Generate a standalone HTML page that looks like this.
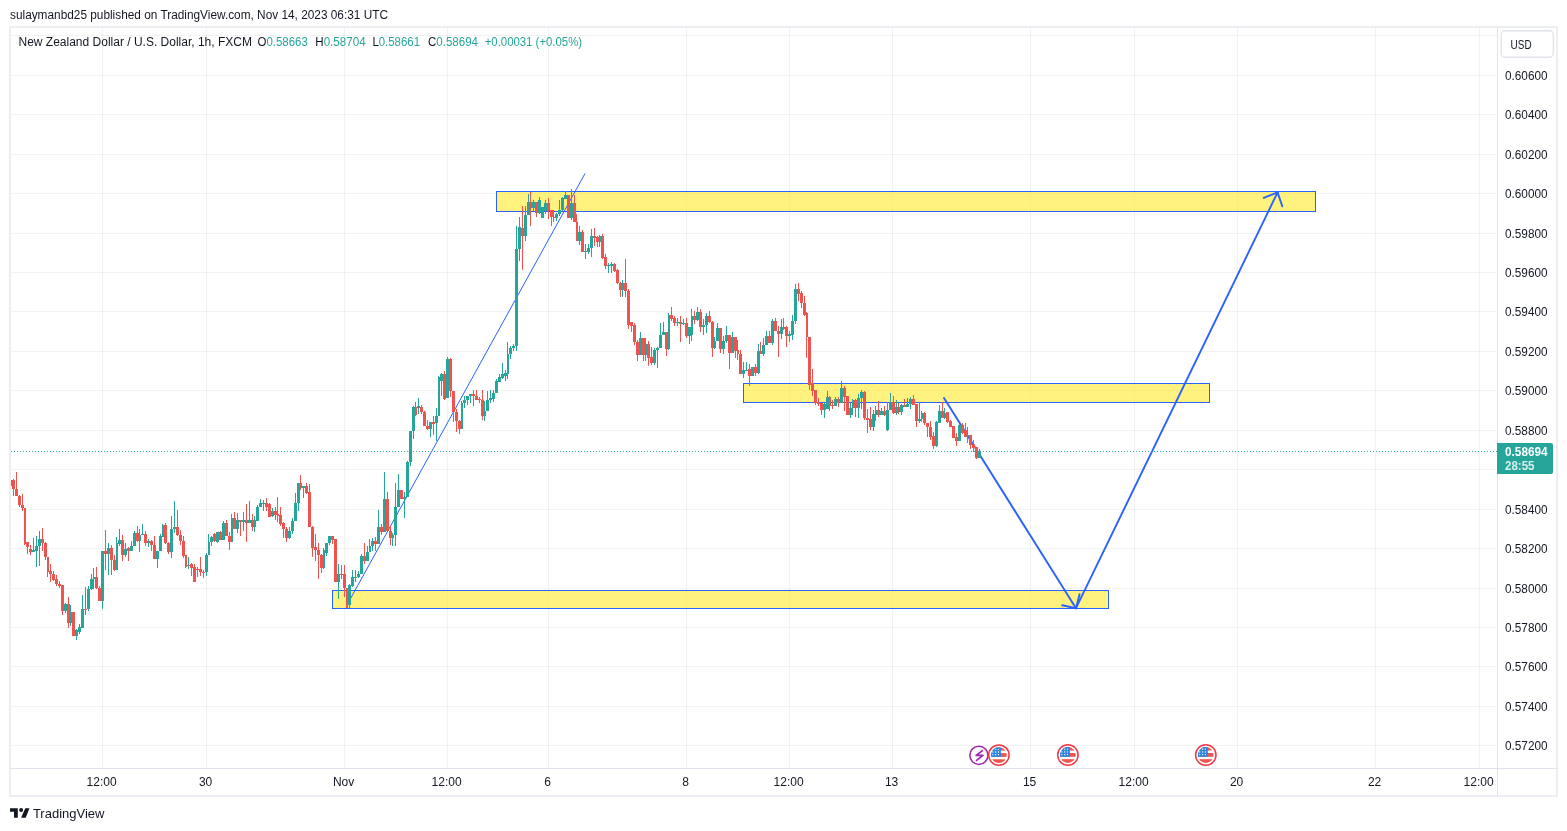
<!DOCTYPE html>
<html><head><meta charset="utf-8"><style>
html,body{margin:0;padding:0;background:#fff;width:1567px;height:831px;overflow:hidden}
svg{display:block;will-change:transform}
text{font-family:"Liberation Sans", sans-serif}
</style></head><body>
<svg width="1567" height="831" viewBox="0 0 1567 831">
<rect x="0" y="0" width="1567" height="831" fill="#ffffff"/>
<text x="10" y="19" font-size="12" fill="#131722" textLength="378" lengthAdjust="spacingAndGlyphs">sulaymanbd25 published on TradingView.com, Nov 14, 2023 06:31 UTC</text>
<rect x="10" y="27" width="1547" height="769" fill="#ffffff" stroke="#eceef3" stroke-width="2"/>
<svg x="0" y="0" width="1567" height="831"><clipPath id="cp"><rect x="11" y="28" width="1486" height="740"/></clipPath>
<g clip-path="url(#cp)">
<rect x="11" y="35" width="1486" height="1" fill="rgba(60,70,70,0.07)"/>
<rect x="11" y="75" width="1486" height="1" fill="rgba(60,70,70,0.07)"/>
<rect x="11" y="114" width="1486" height="1" fill="rgba(60,70,70,0.07)"/>
<rect x="11" y="154" width="1486" height="1" fill="rgba(60,70,70,0.07)"/>
<rect x="11" y="193" width="1486" height="1" fill="rgba(60,70,70,0.07)"/>
<rect x="11" y="233" width="1486" height="1" fill="rgba(60,70,70,0.07)"/>
<rect x="11" y="272" width="1486" height="1" fill="rgba(60,70,70,0.07)"/>
<rect x="11" y="311" width="1486" height="1" fill="rgba(60,70,70,0.07)"/>
<rect x="11" y="351" width="1486" height="1" fill="rgba(60,70,70,0.07)"/>
<rect x="11" y="390" width="1486" height="1" fill="rgba(60,70,70,0.07)"/>
<rect x="11" y="430" width="1486" height="1" fill="rgba(60,70,70,0.07)"/>
<rect x="11" y="469" width="1486" height="1" fill="rgba(60,70,70,0.07)"/>
<rect x="11" y="509" width="1486" height="1" fill="rgba(60,70,70,0.07)"/>
<rect x="11" y="548" width="1486" height="1" fill="rgba(60,70,70,0.07)"/>
<rect x="11" y="588" width="1486" height="1" fill="rgba(60,70,70,0.07)"/>
<rect x="11" y="627" width="1486" height="1" fill="rgba(60,70,70,0.07)"/>
<rect x="11" y="666" width="1486" height="1" fill="rgba(60,70,70,0.07)"/>
<rect x="11" y="706" width="1486" height="1" fill="rgba(60,70,70,0.07)"/>
<rect x="11" y="745" width="1486" height="1" fill="rgba(60,70,70,0.07)"/>
<rect x="102" y="28" width="1" height="740" fill="rgba(60,70,70,0.07)"/>
<rect x="206" y="28" width="1" height="740" fill="rgba(60,70,70,0.07)"/>
<rect x="344" y="28" width="1" height="740" fill="rgba(60,70,70,0.07)"/>
<rect x="447" y="28" width="1" height="740" fill="rgba(60,70,70,0.07)"/>
<rect x="548" y="28" width="1" height="740" fill="rgba(60,70,70,0.07)"/>
<rect x="686" y="28" width="1" height="740" fill="rgba(60,70,70,0.07)"/>
<rect x="789" y="28" width="1" height="740" fill="rgba(60,70,70,0.07)"/>
<rect x="892" y="28" width="1" height="740" fill="rgba(60,70,70,0.07)"/>
<rect x="1030" y="28" width="1" height="740" fill="rgba(60,70,70,0.07)"/>
<rect x="1134" y="28" width="1" height="740" fill="rgba(60,70,70,0.07)"/>
<rect x="1237" y="28" width="1" height="740" fill="rgba(60,70,70,0.07)"/>
<rect x="1375" y="28" width="1" height="740" fill="rgba(60,70,70,0.07)"/>
<rect x="1479" y="28" width="1" height="740" fill="rgba(60,70,70,0.07)"/>
<rect x="496.5" y="191.5" width="819" height="20" fill="rgba(255,235,59,0.66)" stroke="#2962ff" stroke-width="1"/>
<rect x="743.5" y="383.5" width="466" height="19" fill="rgba(255,235,59,0.66)" stroke="#2962ff" stroke-width="1"/>
<rect x="332.5" y="590.5" width="776" height="18" fill="rgba(255,235,59,0.66)" stroke="#2962ff" stroke-width="1"/>
<line x1="347" y1="605" x2="585" y2="173.5" stroke="#2962ff" stroke-width="1"/>
<g stroke="#2962ff" stroke-width="1.9" fill="none" stroke-linecap="round" stroke-linejoin="round">
<line x1="944" y1="398" x2="1076" y2="608.2"/>
<polyline points="1062.2,605.2 1076,608.2 1079.6,594.2"/>
<line x1="1076" y1="608.2" x2="1277.6" y2="192.4"/>
<polyline points="1263.8,197.8 1277.6,192.4 1282.3,206.3"/>
</g>
<line x1="11" y1="451.5" x2="1497" y2="451.5" stroke="#26a69a" stroke-width="1" stroke-dasharray="1 2"/>
<rect x="10" y="480" width="1" height="6" fill="#26a69a"/>
<rect x="9" y="480" width="3" height="6" fill="#26a69a"/>
<rect x="13" y="479" width="1" height="17" fill="#ef5350"/>
<rect x="12" y="480" width="3" height="9" fill="#ef5350"/>
<rect x="16" y="472" width="1" height="24" fill="#ef5350"/>
<rect x="15" y="489" width="3" height="7" fill="#ef5350"/>
<rect x="19" y="495" width="1" height="12" fill="#ef5350"/>
<rect x="18" y="496" width="3" height="9" fill="#ef5350"/>
<rect x="22" y="494" width="1" height="17" fill="#ef5350"/>
<rect x="21" y="505" width="3" height="3" fill="#ef5350"/>
<rect x="24" y="508" width="1" height="37" fill="#ef5350"/>
<rect x="24" y="508" width="2" height="36" fill="#ef5350"/>
<rect x="27" y="542" width="1" height="12" fill="#ef5350"/>
<rect x="26" y="542" width="3" height="5" fill="#ef5350"/>
<rect x="30" y="545" width="1" height="10" fill="#ef5350"/>
<rect x="29" y="549" width="3" height="3" fill="#ef5350"/>
<rect x="33" y="538" width="1" height="14" fill="#26a69a"/>
<rect x="32" y="550" width="3" height="2" fill="#26a69a"/>
<rect x="36" y="536" width="1" height="31" fill="#26a69a"/>
<rect x="35" y="546" width="3" height="5" fill="#26a69a"/>
<rect x="39" y="531" width="1" height="35" fill="#26a69a"/>
<rect x="38" y="539" width="3" height="7" fill="#26a69a"/>
<rect x="42" y="528" width="1" height="23" fill="#ef5350"/>
<rect x="41" y="539" width="3" height="4" fill="#ef5350"/>
<rect x="45" y="542" width="1" height="18" fill="#ef5350"/>
<rect x="44" y="543" width="3" height="14" fill="#ef5350"/>
<rect x="47" y="557" width="1" height="20" fill="#ef5350"/>
<rect x="47" y="557" width="2" height="15" fill="#ef5350"/>
<rect x="50" y="564" width="1" height="18" fill="#ef5350"/>
<rect x="49" y="571" width="3" height="3" fill="#ef5350"/>
<rect x="53" y="571" width="1" height="10" fill="#ef5350"/>
<rect x="52" y="574" width="3" height="6" fill="#ef5350"/>
<rect x="56" y="575" width="1" height="11" fill="#ef5350"/>
<rect x="55" y="579" width="3" height="5" fill="#ef5350"/>
<rect x="59" y="581" width="1" height="7" fill="#ef5350"/>
<rect x="58" y="584" width="3" height="2" fill="#ef5350"/>
<rect x="62" y="585" width="1" height="30" fill="#ef5350"/>
<rect x="61" y="585" width="3" height="26" fill="#ef5350"/>
<rect x="65" y="603" width="1" height="10" fill="#26a69a"/>
<rect x="64" y="604" width="3" height="7" fill="#26a69a"/>
<rect x="68" y="597" width="1" height="31" fill="#ef5350"/>
<rect x="67" y="604" width="3" height="19" fill="#ef5350"/>
<rect x="70" y="605" width="1" height="21" fill="#26a69a"/>
<rect x="70" y="612" width="2" height="11" fill="#26a69a"/>
<rect x="73" y="612" width="1" height="24" fill="#ef5350"/>
<rect x="72" y="612" width="3" height="24" fill="#ef5350"/>
<rect x="76" y="629" width="1" height="11" fill="#26a69a"/>
<rect x="75" y="630" width="3" height="6" fill="#26a69a"/>
<rect x="79" y="624" width="1" height="10" fill="#26a69a"/>
<rect x="78" y="627" width="3" height="5" fill="#26a69a"/>
<rect x="82" y="595" width="1" height="33" fill="#26a69a"/>
<rect x="81" y="609" width="3" height="19" fill="#26a69a"/>
<rect x="85" y="587" width="1" height="28" fill="#ef5350"/>
<rect x="84" y="609" width="3" height="1" fill="#ef5350"/>
<rect x="88" y="586" width="1" height="25" fill="#26a69a"/>
<rect x="87" y="589" width="3" height="20" fill="#26a69a"/>
<rect x="91" y="574" width="1" height="16" fill="#26a69a"/>
<rect x="90" y="579" width="3" height="10" fill="#26a69a"/>
<rect x="93" y="568" width="1" height="21" fill="#26a69a"/>
<rect x="93" y="577" width="2" height="2" fill="#26a69a"/>
<rect x="96" y="567" width="1" height="22" fill="#ef5350"/>
<rect x="95" y="577" width="3" height="11" fill="#ef5350"/>
<rect x="99" y="586" width="1" height="15" fill="#ef5350"/>
<rect x="98" y="588" width="3" height="13" fill="#ef5350"/>
<rect x="102" y="551" width="1" height="58" fill="#26a69a"/>
<rect x="101" y="551" width="3" height="50" fill="#26a69a"/>
<rect x="105" y="530" width="1" height="40" fill="#ef5350"/>
<rect x="104" y="551" width="3" height="3" fill="#ef5350"/>
<rect x="108" y="543" width="1" height="32" fill="#26a69a"/>
<rect x="107" y="548" width="3" height="6" fill="#26a69a"/>
<rect x="111" y="545" width="1" height="30" fill="#ef5350"/>
<rect x="110" y="548" width="3" height="12" fill="#ef5350"/>
<rect x="114" y="555" width="1" height="16" fill="#ef5350"/>
<rect x="113" y="560" width="3" height="10" fill="#ef5350"/>
<rect x="116" y="537" width="1" height="33" fill="#26a69a"/>
<rect x="116" y="543" width="2" height="27" fill="#26a69a"/>
<rect x="119" y="529" width="1" height="17" fill="#26a69a"/>
<rect x="118" y="540" width="3" height="4" fill="#26a69a"/>
<rect x="122" y="535" width="1" height="26" fill="#ef5350"/>
<rect x="121" y="540" width="3" height="15" fill="#ef5350"/>
<rect x="125" y="543" width="1" height="14" fill="#26a69a"/>
<rect x="124" y="549" width="3" height="6" fill="#26a69a"/>
<rect x="128" y="547" width="1" height="14" fill="#ef5350"/>
<rect x="127" y="548" width="3" height="3" fill="#ef5350"/>
<rect x="131" y="541" width="1" height="10" fill="#26a69a"/>
<rect x="130" y="546" width="3" height="5" fill="#26a69a"/>
<rect x="134" y="531" width="1" height="15" fill="#26a69a"/>
<rect x="133" y="533" width="3" height="13" fill="#26a69a"/>
<rect x="137" y="526" width="1" height="16" fill="#ef5350"/>
<rect x="136" y="533" width="3" height="8" fill="#ef5350"/>
<rect x="139" y="529" width="1" height="23" fill="#26a69a"/>
<rect x="139" y="535" width="2" height="6" fill="#26a69a"/>
<rect x="142" y="524" width="1" height="11" fill="#26a69a"/>
<rect x="141" y="534" width="3" height="1" fill="#26a69a"/>
<rect x="145" y="531" width="1" height="15" fill="#ef5350"/>
<rect x="144" y="534" width="3" height="9" fill="#ef5350"/>
<rect x="148" y="539" width="1" height="8" fill="#26a69a"/>
<rect x="147" y="541" width="3" height="2" fill="#26a69a"/>
<rect x="151" y="540" width="1" height="11" fill="#ef5350"/>
<rect x="150" y="541" width="3" height="4" fill="#ef5350"/>
<rect x="154" y="536" width="1" height="23" fill="#ef5350"/>
<rect x="153" y="545" width="3" height="14" fill="#ef5350"/>
<rect x="157" y="551" width="1" height="17" fill="#26a69a"/>
<rect x="156" y="551" width="3" height="8" fill="#26a69a"/>
<rect x="160" y="534" width="1" height="17" fill="#26a69a"/>
<rect x="159" y="536" width="3" height="15" fill="#26a69a"/>
<rect x="162" y="524" width="1" height="13" fill="#26a69a"/>
<rect x="162" y="525" width="2" height="12" fill="#26a69a"/>
<rect x="165" y="523" width="1" height="21" fill="#ef5350"/>
<rect x="164" y="525" width="3" height="18" fill="#ef5350"/>
<rect x="168" y="542" width="1" height="12" fill="#ef5350"/>
<rect x="167" y="543" width="3" height="9" fill="#ef5350"/>
<rect x="171" y="516" width="1" height="42" fill="#26a69a"/>
<rect x="170" y="529" width="3" height="23" fill="#26a69a"/>
<rect x="174" y="501" width="1" height="32" fill="#26a69a"/>
<rect x="173" y="527" width="3" height="2" fill="#26a69a"/>
<rect x="177" y="510" width="1" height="26" fill="#ef5350"/>
<rect x="176" y="527" width="3" height="8" fill="#ef5350"/>
<rect x="180" y="530" width="1" height="15" fill="#ef5350"/>
<rect x="179" y="535" width="3" height="6" fill="#ef5350"/>
<rect x="183" y="536" width="1" height="22" fill="#ef5350"/>
<rect x="182" y="541" width="3" height="15" fill="#ef5350"/>
<rect x="185" y="555" width="1" height="13" fill="#ef5350"/>
<rect x="185" y="555" width="2" height="12" fill="#ef5350"/>
<rect x="188" y="557" width="1" height="12" fill="#26a69a"/>
<rect x="187" y="565" width="3" height="1" fill="#26a69a"/>
<rect x="191" y="563" width="1" height="13" fill="#ef5350"/>
<rect x="190" y="564" width="3" height="4" fill="#ef5350"/>
<rect x="194" y="564" width="1" height="18" fill="#ef5350"/>
<rect x="193" y="567" width="3" height="15" fill="#ef5350"/>
<rect x="197" y="567" width="1" height="10" fill="#ef5350"/>
<rect x="196" y="569" width="3" height="1" fill="#ef5350"/>
<rect x="200" y="557" width="1" height="19" fill="#ef5350"/>
<rect x="199" y="569" width="3" height="3" fill="#ef5350"/>
<rect x="203" y="570" width="1" height="8" fill="#ef5350"/>
<rect x="202" y="572" width="3" height="1" fill="#ef5350"/>
<rect x="206" y="553" width="1" height="23" fill="#26a69a"/>
<rect x="205" y="555" width="3" height="17" fill="#26a69a"/>
<rect x="208" y="534" width="1" height="21" fill="#26a69a"/>
<rect x="208" y="542" width="2" height="13" fill="#26a69a"/>
<rect x="211" y="536" width="1" height="10" fill="#26a69a"/>
<rect x="210" y="537" width="3" height="5" fill="#26a69a"/>
<rect x="214" y="533" width="1" height="9" fill="#ef5350"/>
<rect x="213" y="534" width="3" height="7" fill="#ef5350"/>
<rect x="217" y="532" width="1" height="11" fill="#26a69a"/>
<rect x="216" y="532" width="3" height="10" fill="#26a69a"/>
<rect x="220" y="531" width="1" height="9" fill="#ef5350"/>
<rect x="219" y="532" width="3" height="8" fill="#ef5350"/>
<rect x="223" y="521" width="1" height="19" fill="#26a69a"/>
<rect x="222" y="523" width="3" height="17" fill="#26a69a"/>
<rect x="226" y="520" width="1" height="16" fill="#ef5350"/>
<rect x="225" y="523" width="3" height="13" fill="#ef5350"/>
<rect x="229" y="532" width="1" height="18" fill="#ef5350"/>
<rect x="228" y="536" width="3" height="6" fill="#ef5350"/>
<rect x="231" y="514" width="1" height="28" fill="#26a69a"/>
<rect x="231" y="518" width="2" height="24" fill="#26a69a"/>
<rect x="234" y="512" width="1" height="17" fill="#ef5350"/>
<rect x="233" y="518" width="3" height="11" fill="#ef5350"/>
<rect x="237" y="513" width="1" height="20" fill="#26a69a"/>
<rect x="236" y="520" width="3" height="9" fill="#26a69a"/>
<rect x="240" y="520" width="1" height="16" fill="#ef5350"/>
<rect x="239" y="520" width="3" height="2" fill="#ef5350"/>
<rect x="243" y="512" width="1" height="19" fill="#26a69a"/>
<rect x="242" y="520" width="3" height="2" fill="#26a69a"/>
<rect x="246" y="504" width="1" height="38" fill="#ef5350"/>
<rect x="245" y="520" width="3" height="3" fill="#ef5350"/>
<rect x="249" y="501" width="1" height="22" fill="#26a69a"/>
<rect x="248" y="520" width="3" height="3" fill="#26a69a"/>
<rect x="252" y="514" width="1" height="17" fill="#ef5350"/>
<rect x="251" y="520" width="3" height="7" fill="#ef5350"/>
<rect x="254" y="516" width="1" height="16" fill="#26a69a"/>
<rect x="254" y="520" width="2" height="7" fill="#26a69a"/>
<rect x="257" y="505" width="1" height="16" fill="#26a69a"/>
<rect x="256" y="507" width="3" height="14" fill="#26a69a"/>
<rect x="260" y="499" width="1" height="8" fill="#26a69a"/>
<rect x="259" y="503" width="3" height="4" fill="#26a69a"/>
<rect x="263" y="500" width="1" height="11" fill="#26a69a"/>
<rect x="262" y="503" width="3" height="1" fill="#26a69a"/>
<rect x="266" y="498" width="1" height="13" fill="#ef5350"/>
<rect x="265" y="503" width="3" height="4" fill="#ef5350"/>
<rect x="269" y="503" width="1" height="14" fill="#ef5350"/>
<rect x="268" y="504" width="3" height="13" fill="#ef5350"/>
<rect x="272" y="508" width="1" height="9" fill="#26a69a"/>
<rect x="271" y="511" width="3" height="5" fill="#26a69a"/>
<rect x="275" y="507" width="1" height="13" fill="#ef5350"/>
<rect x="274" y="511" width="3" height="4" fill="#ef5350"/>
<rect x="277" y="497" width="1" height="25" fill="#ef5350"/>
<rect x="277" y="514" width="2" height="2" fill="#ef5350"/>
<rect x="280" y="507" width="1" height="19" fill="#ef5350"/>
<rect x="279" y="515" width="3" height="9" fill="#ef5350"/>
<rect x="283" y="522" width="1" height="16" fill="#ef5350"/>
<rect x="282" y="523" width="3" height="6" fill="#ef5350"/>
<rect x="286" y="527" width="1" height="15" fill="#ef5350"/>
<rect x="285" y="529" width="3" height="9" fill="#ef5350"/>
<rect x="289" y="527" width="1" height="12" fill="#26a69a"/>
<rect x="288" y="531" width="3" height="7" fill="#26a69a"/>
<rect x="292" y="518" width="1" height="16" fill="#26a69a"/>
<rect x="291" y="521" width="3" height="10" fill="#26a69a"/>
<rect x="295" y="493" width="1" height="28" fill="#26a69a"/>
<rect x="294" y="503" width="3" height="18" fill="#26a69a"/>
<rect x="298" y="483" width="1" height="28" fill="#26a69a"/>
<rect x="297" y="483" width="3" height="20" fill="#26a69a"/>
<rect x="300" y="475" width="1" height="15" fill="#ef5350"/>
<rect x="300" y="483" width="2" height="5" fill="#ef5350"/>
<rect x="303" y="486" width="1" height="12" fill="#26a69a"/>
<rect x="302" y="486" width="3" height="2" fill="#26a69a"/>
<rect x="306" y="483" width="1" height="11" fill="#ef5350"/>
<rect x="305" y="486" width="3" height="7" fill="#ef5350"/>
<rect x="309" y="484" width="1" height="43" fill="#ef5350"/>
<rect x="308" y="492" width="3" height="35" fill="#ef5350"/>
<rect x="312" y="526" width="1" height="31" fill="#ef5350"/>
<rect x="311" y="527" width="3" height="21" fill="#ef5350"/>
<rect x="315" y="534" width="1" height="27" fill="#ef5350"/>
<rect x="314" y="547" width="3" height="3" fill="#ef5350"/>
<rect x="318" y="543" width="1" height="36" fill="#ef5350"/>
<rect x="317" y="550" width="3" height="5" fill="#ef5350"/>
<rect x="321" y="554" width="1" height="19" fill="#ef5350"/>
<rect x="320" y="555" width="3" height="13" fill="#ef5350"/>
<rect x="323" y="548" width="1" height="21" fill="#26a69a"/>
<rect x="323" y="550" width="2" height="18" fill="#26a69a"/>
<rect x="326" y="543" width="1" height="13" fill="#26a69a"/>
<rect x="325" y="543" width="3" height="10" fill="#26a69a"/>
<rect x="329" y="536" width="1" height="9" fill="#26a69a"/>
<rect x="328" y="536" width="3" height="7" fill="#26a69a"/>
<rect x="332" y="536" width="1" height="8" fill="#ef5350"/>
<rect x="331" y="536" width="3" height="4" fill="#ef5350"/>
<rect x="335" y="539" width="1" height="43" fill="#ef5350"/>
<rect x="334" y="539" width="3" height="43" fill="#ef5350"/>
<rect x="338" y="564" width="1" height="35" fill="#26a69a"/>
<rect x="337" y="574" width="3" height="8" fill="#26a69a"/>
<rect x="341" y="565" width="1" height="14" fill="#ef5350"/>
<rect x="340" y="574" width="3" height="1" fill="#ef5350"/>
<rect x="344" y="565" width="1" height="32" fill="#ef5350"/>
<rect x="343" y="574" width="3" height="14" fill="#ef5350"/>
<rect x="346" y="588" width="1" height="20" fill="#ef5350"/>
<rect x="346" y="588" width="2" height="20" fill="#ef5350"/>
<rect x="349" y="584" width="1" height="24" fill="#26a69a"/>
<rect x="348" y="585" width="3" height="20" fill="#26a69a"/>
<rect x="352" y="570" width="1" height="17" fill="#26a69a"/>
<rect x="351" y="577" width="3" height="9" fill="#26a69a"/>
<rect x="355" y="570" width="1" height="12" fill="#26a69a"/>
<rect x="354" y="577" width="3" height="1" fill="#26a69a"/>
<rect x="358" y="571" width="1" height="7" fill="#26a69a"/>
<rect x="357" y="574" width="3" height="3" fill="#26a69a"/>
<rect x="361" y="554" width="1" height="20" fill="#26a69a"/>
<rect x="360" y="556" width="3" height="18" fill="#26a69a"/>
<rect x="364" y="543" width="1" height="21" fill="#ef5350"/>
<rect x="363" y="556" width="3" height="5" fill="#ef5350"/>
<rect x="367" y="546" width="1" height="15" fill="#26a69a"/>
<rect x="366" y="552" width="3" height="9" fill="#26a69a"/>
<rect x="369" y="539" width="1" height="13" fill="#26a69a"/>
<rect x="369" y="546" width="2" height="6" fill="#26a69a"/>
<rect x="372" y="538" width="1" height="13" fill="#26a69a"/>
<rect x="371" y="541" width="3" height="5" fill="#26a69a"/>
<rect x="375" y="537" width="1" height="14" fill="#ef5350"/>
<rect x="374" y="541" width="3" height="3" fill="#ef5350"/>
<rect x="378" y="510" width="1" height="34" fill="#26a69a"/>
<rect x="377" y="527" width="3" height="17" fill="#26a69a"/>
<rect x="381" y="524" width="1" height="11" fill="#ef5350"/>
<rect x="380" y="527" width="3" height="5" fill="#ef5350"/>
<rect x="384" y="472" width="1" height="60" fill="#26a69a"/>
<rect x="383" y="499" width="3" height="33" fill="#26a69a"/>
<rect x="387" y="492" width="1" height="39" fill="#ef5350"/>
<rect x="386" y="499" width="3" height="32" fill="#ef5350"/>
<rect x="390" y="526" width="1" height="19" fill="#ef5350"/>
<rect x="389" y="531" width="3" height="7" fill="#ef5350"/>
<rect x="392" y="533" width="1" height="13" fill="#26a69a"/>
<rect x="392" y="535" width="2" height="3" fill="#26a69a"/>
<rect x="395" y="483" width="1" height="63" fill="#26a69a"/>
<rect x="394" y="507" width="3" height="28" fill="#26a69a"/>
<rect x="398" y="474" width="1" height="33" fill="#26a69a"/>
<rect x="397" y="490" width="3" height="17" fill="#26a69a"/>
<rect x="401" y="490" width="1" height="9" fill="#ef5350"/>
<rect x="400" y="490" width="3" height="9" fill="#ef5350"/>
<rect x="404" y="492" width="1" height="26" fill="#26a69a"/>
<rect x="403" y="497" width="3" height="2" fill="#26a69a"/>
<rect x="407" y="461" width="1" height="36" fill="#26a69a"/>
<rect x="406" y="462" width="3" height="35" fill="#26a69a"/>
<rect x="410" y="431" width="1" height="35" fill="#26a69a"/>
<rect x="409" y="431" width="3" height="31" fill="#26a69a"/>
<rect x="413" y="406" width="1" height="33" fill="#26a69a"/>
<rect x="412" y="407" width="3" height="24" fill="#26a69a"/>
<rect x="415" y="402" width="1" height="14" fill="#ef5350"/>
<rect x="415" y="407" width="2" height="8" fill="#ef5350"/>
<rect x="418" y="398" width="1" height="16" fill="#26a69a"/>
<rect x="417" y="406" width="3" height="2" fill="#26a69a"/>
<rect x="421" y="405" width="1" height="9" fill="#ef5350"/>
<rect x="420" y="407" width="3" height="5" fill="#ef5350"/>
<rect x="424" y="411" width="1" height="15" fill="#ef5350"/>
<rect x="423" y="412" width="3" height="14" fill="#ef5350"/>
<rect x="427" y="420" width="1" height="10" fill="#ef5350"/>
<rect x="426" y="426" width="3" height="3" fill="#ef5350"/>
<rect x="430" y="422" width="1" height="15" fill="#26a69a"/>
<rect x="429" y="422" width="3" height="7" fill="#26a69a"/>
<rect x="433" y="416" width="1" height="19" fill="#ef5350"/>
<rect x="432" y="422" width="3" height="2" fill="#ef5350"/>
<rect x="436" y="408" width="1" height="33" fill="#26a69a"/>
<rect x="435" y="416" width="3" height="7" fill="#26a69a"/>
<rect x="438" y="376" width="1" height="40" fill="#26a69a"/>
<rect x="438" y="377" width="2" height="39" fill="#26a69a"/>
<rect x="441" y="373" width="1" height="23" fill="#26a69a"/>
<rect x="440" y="374" width="3" height="7" fill="#26a69a"/>
<rect x="444" y="371" width="1" height="29" fill="#ef5350"/>
<rect x="443" y="374" width="3" height="25" fill="#ef5350"/>
<rect x="447" y="357" width="1" height="41" fill="#26a69a"/>
<rect x="446" y="359" width="3" height="39" fill="#26a69a"/>
<rect x="450" y="358" width="1" height="39" fill="#ef5350"/>
<rect x="449" y="359" width="3" height="32" fill="#ef5350"/>
<rect x="453" y="391" width="1" height="31" fill="#ef5350"/>
<rect x="452" y="391" width="3" height="21" fill="#ef5350"/>
<rect x="456" y="409" width="1" height="23" fill="#ef5350"/>
<rect x="455" y="412" width="3" height="9" fill="#ef5350"/>
<rect x="459" y="420" width="1" height="14" fill="#ef5350"/>
<rect x="458" y="421" width="3" height="8" fill="#ef5350"/>
<rect x="461" y="401" width="1" height="28" fill="#26a69a"/>
<rect x="461" y="403" width="2" height="26" fill="#26a69a"/>
<rect x="464" y="396" width="1" height="12" fill="#26a69a"/>
<rect x="463" y="400" width="3" height="3" fill="#26a69a"/>
<rect x="467" y="396" width="1" height="9" fill="#26a69a"/>
<rect x="466" y="396" width="3" height="4" fill="#26a69a"/>
<rect x="470" y="394" width="1" height="9" fill="#26a69a"/>
<rect x="469" y="394" width="3" height="2" fill="#26a69a"/>
<rect x="473" y="390" width="1" height="16" fill="#ef5350"/>
<rect x="472" y="394" width="3" height="2" fill="#ef5350"/>
<rect x="476" y="390" width="1" height="10" fill="#ef5350"/>
<rect x="475" y="396" width="3" height="4" fill="#ef5350"/>
<rect x="479" y="397" width="1" height="6" fill="#ef5350"/>
<rect x="478" y="399" width="3" height="1" fill="#ef5350"/>
<rect x="482" y="390" width="1" height="30" fill="#ef5350"/>
<rect x="481" y="400" width="3" height="16" fill="#ef5350"/>
<rect x="484" y="401" width="1" height="20" fill="#26a69a"/>
<rect x="484" y="411" width="2" height="5" fill="#26a69a"/>
<rect x="487" y="391" width="1" height="20" fill="#26a69a"/>
<rect x="486" y="400" width="3" height="11" fill="#26a69a"/>
<rect x="490" y="390" width="1" height="13" fill="#26a69a"/>
<rect x="489" y="398" width="3" height="2" fill="#26a69a"/>
<rect x="493" y="390" width="1" height="12" fill="#26a69a"/>
<rect x="492" y="393" width="3" height="6" fill="#26a69a"/>
<rect x="496" y="379" width="1" height="14" fill="#26a69a"/>
<rect x="495" y="381" width="3" height="12" fill="#26a69a"/>
<rect x="499" y="374" width="1" height="8" fill="#26a69a"/>
<rect x="498" y="377" width="3" height="5" fill="#26a69a"/>
<rect x="502" y="363" width="1" height="16" fill="#26a69a"/>
<rect x="501" y="374" width="3" height="4" fill="#26a69a"/>
<rect x="505" y="370" width="1" height="11" fill="#26a69a"/>
<rect x="504" y="373" width="3" height="3" fill="#26a69a"/>
<rect x="507" y="342" width="1" height="37" fill="#26a69a"/>
<rect x="507" y="354" width="2" height="20" fill="#26a69a"/>
<rect x="510" y="346" width="1" height="13" fill="#26a69a"/>
<rect x="509" y="348" width="3" height="6" fill="#26a69a"/>
<rect x="513" y="344" width="1" height="7" fill="#26a69a"/>
<rect x="512" y="346" width="3" height="2" fill="#26a69a"/>
<rect x="516" y="226" width="1" height="125" fill="#26a69a"/>
<rect x="515" y="249" width="3" height="97" fill="#26a69a"/>
<rect x="519" y="217" width="1" height="44" fill="#26a69a"/>
<rect x="518" y="227" width="3" height="22" fill="#26a69a"/>
<rect x="522" y="206" width="1" height="64" fill="#ef5350"/>
<rect x="521" y="228" width="3" height="8" fill="#ef5350"/>
<rect x="525" y="206" width="1" height="35" fill="#26a69a"/>
<rect x="524" y="215" width="3" height="21" fill="#26a69a"/>
<rect x="528" y="194" width="1" height="21" fill="#26a69a"/>
<rect x="527" y="202" width="3" height="13" fill="#26a69a"/>
<rect x="530" y="192" width="1" height="34" fill="#ef5350"/>
<rect x="530" y="202" width="2" height="6" fill="#ef5350"/>
<rect x="533" y="200" width="1" height="11" fill="#26a69a"/>
<rect x="532" y="202" width="3" height="6" fill="#26a69a"/>
<rect x="536" y="202" width="1" height="15" fill="#ef5350"/>
<rect x="535" y="202" width="3" height="11" fill="#ef5350"/>
<rect x="539" y="197" width="1" height="17" fill="#26a69a"/>
<rect x="538" y="200" width="3" height="13" fill="#26a69a"/>
<rect x="542" y="207" width="1" height="11" fill="#26a69a"/>
<rect x="541" y="207" width="3" height="11" fill="#26a69a"/>
<rect x="545" y="200" width="1" height="14" fill="#26a69a"/>
<rect x="544" y="203" width="3" height="8" fill="#26a69a"/>
<rect x="548" y="198" width="1" height="21" fill="#ef5350"/>
<rect x="547" y="203" width="3" height="8" fill="#ef5350"/>
<rect x="551" y="210" width="1" height="16" fill="#ef5350"/>
<rect x="550" y="210" width="3" height="7" fill="#ef5350"/>
<rect x="553" y="210" width="1" height="12" fill="#ef5350"/>
<rect x="553" y="217" width="2" height="1" fill="#ef5350"/>
<rect x="556" y="213" width="1" height="8" fill="#26a69a"/>
<rect x="555" y="214" width="3" height="4" fill="#26a69a"/>
<rect x="559" y="200" width="1" height="16" fill="#26a69a"/>
<rect x="558" y="210" width="3" height="4" fill="#26a69a"/>
<rect x="562" y="197" width="1" height="14" fill="#26a69a"/>
<rect x="561" y="198" width="3" height="12" fill="#26a69a"/>
<rect x="565" y="191" width="1" height="8" fill="#26a69a"/>
<rect x="564" y="195" width="3" height="4" fill="#26a69a"/>
<rect x="568" y="195" width="1" height="23" fill="#ef5350"/>
<rect x="567" y="195" width="3" height="23" fill="#ef5350"/>
<rect x="571" y="189" width="1" height="31" fill="#26a69a"/>
<rect x="570" y="203" width="3" height="15" fill="#26a69a"/>
<rect x="574" y="195" width="1" height="27" fill="#ef5350"/>
<rect x="573" y="203" width="3" height="19" fill="#ef5350"/>
<rect x="576" y="214" width="1" height="27" fill="#ef5350"/>
<rect x="576" y="222" width="2" height="19" fill="#ef5350"/>
<rect x="579" y="226" width="1" height="19" fill="#26a69a"/>
<rect x="578" y="232" width="3" height="9" fill="#26a69a"/>
<rect x="582" y="230" width="1" height="22" fill="#ef5350"/>
<rect x="581" y="232" width="3" height="20" fill="#ef5350"/>
<rect x="585" y="244" width="1" height="15" fill="#26a69a"/>
<rect x="584" y="251" width="3" height="1" fill="#26a69a"/>
<rect x="588" y="244" width="1" height="10" fill="#26a69a"/>
<rect x="587" y="248" width="3" height="4" fill="#26a69a"/>
<rect x="591" y="229" width="1" height="28" fill="#26a69a"/>
<rect x="590" y="236" width="3" height="12" fill="#26a69a"/>
<rect x="594" y="228" width="1" height="18" fill="#ef5350"/>
<rect x="593" y="236" width="3" height="2" fill="#ef5350"/>
<rect x="597" y="236" width="1" height="11" fill="#ef5350"/>
<rect x="596" y="237" width="3" height="5" fill="#ef5350"/>
<rect x="599" y="235" width="1" height="12" fill="#26a69a"/>
<rect x="599" y="236" width="2" height="6" fill="#26a69a"/>
<rect x="602" y="234" width="1" height="25" fill="#ef5350"/>
<rect x="601" y="236" width="3" height="22" fill="#ef5350"/>
<rect x="605" y="254" width="1" height="15" fill="#ef5350"/>
<rect x="604" y="257" width="3" height="9" fill="#ef5350"/>
<rect x="608" y="263" width="1" height="10" fill="#26a69a"/>
<rect x="607" y="265" width="3" height="1" fill="#26a69a"/>
<rect x="611" y="262" width="1" height="11" fill="#26a69a"/>
<rect x="610" y="264" width="3" height="2" fill="#26a69a"/>
<rect x="614" y="263" width="1" height="9" fill="#ef5350"/>
<rect x="613" y="264" width="3" height="7" fill="#ef5350"/>
<rect x="617" y="269" width="1" height="15" fill="#ef5350"/>
<rect x="616" y="270" width="3" height="13" fill="#ef5350"/>
<rect x="620" y="282" width="1" height="15" fill="#ef5350"/>
<rect x="619" y="283" width="3" height="7" fill="#ef5350"/>
<rect x="622" y="280" width="1" height="17" fill="#26a69a"/>
<rect x="622" y="283" width="2" height="7" fill="#26a69a"/>
<rect x="625" y="259" width="1" height="38" fill="#ef5350"/>
<rect x="624" y="283" width="3" height="8" fill="#ef5350"/>
<rect x="628" y="289" width="1" height="40" fill="#ef5350"/>
<rect x="627" y="291" width="3" height="34" fill="#ef5350"/>
<rect x="631" y="322" width="1" height="10" fill="#ef5350"/>
<rect x="630" y="322" width="3" height="4" fill="#ef5350"/>
<rect x="634" y="323" width="1" height="22" fill="#ef5350"/>
<rect x="633" y="325" width="3" height="17" fill="#ef5350"/>
<rect x="637" y="340" width="1" height="21" fill="#ef5350"/>
<rect x="636" y="342" width="3" height="13" fill="#ef5350"/>
<rect x="640" y="332" width="1" height="23" fill="#26a69a"/>
<rect x="639" y="338" width="3" height="17" fill="#26a69a"/>
<rect x="643" y="338" width="1" height="23" fill="#ef5350"/>
<rect x="642" y="338" width="3" height="17" fill="#ef5350"/>
<rect x="645" y="338" width="1" height="23" fill="#26a69a"/>
<rect x="645" y="344" width="2" height="11" fill="#26a69a"/>
<rect x="648" y="341" width="1" height="25" fill="#ef5350"/>
<rect x="647" y="344" width="3" height="14" fill="#ef5350"/>
<rect x="651" y="347" width="1" height="18" fill="#ef5350"/>
<rect x="650" y="357" width="3" height="6" fill="#ef5350"/>
<rect x="654" y="348" width="1" height="17" fill="#26a69a"/>
<rect x="653" y="350" width="3" height="13" fill="#26a69a"/>
<rect x="657" y="347" width="1" height="21" fill="#26a69a"/>
<rect x="656" y="348" width="3" height="2" fill="#26a69a"/>
<rect x="660" y="323" width="1" height="25" fill="#26a69a"/>
<rect x="659" y="335" width="3" height="13" fill="#26a69a"/>
<rect x="663" y="322" width="1" height="13" fill="#26a69a"/>
<rect x="662" y="332" width="3" height="3" fill="#26a69a"/>
<rect x="666" y="332" width="1" height="24" fill="#ef5350"/>
<rect x="665" y="332" width="3" height="17" fill="#ef5350"/>
<rect x="668" y="313" width="1" height="37" fill="#26a69a"/>
<rect x="668" y="315" width="2" height="34" fill="#26a69a"/>
<rect x="671" y="307" width="1" height="14" fill="#ef5350"/>
<rect x="670" y="315" width="3" height="4" fill="#ef5350"/>
<rect x="674" y="316" width="1" height="10" fill="#ef5350"/>
<rect x="673" y="318" width="3" height="5" fill="#ef5350"/>
<rect x="677" y="318" width="1" height="8" fill="#26a69a"/>
<rect x="676" y="322" width="3" height="1" fill="#26a69a"/>
<rect x="680" y="316" width="1" height="26" fill="#ef5350"/>
<rect x="679" y="322" width="3" height="2" fill="#ef5350"/>
<rect x="683" y="319" width="1" height="6" fill="#26a69a"/>
<rect x="682" y="323" width="3" height="1" fill="#26a69a"/>
<rect x="686" y="318" width="1" height="20" fill="#ef5350"/>
<rect x="685" y="323" width="3" height="13" fill="#ef5350"/>
<rect x="689" y="327" width="1" height="17" fill="#26a69a"/>
<rect x="688" y="327" width="3" height="9" fill="#26a69a"/>
<rect x="691" y="309" width="1" height="32" fill="#26a69a"/>
<rect x="691" y="316" width="2" height="19" fill="#26a69a"/>
<rect x="694" y="311" width="1" height="13" fill="#ef5350"/>
<rect x="693" y="316" width="3" height="4" fill="#ef5350"/>
<rect x="697" y="307" width="1" height="14" fill="#26a69a"/>
<rect x="696" y="312" width="3" height="8" fill="#26a69a"/>
<rect x="700" y="309" width="1" height="23" fill="#ef5350"/>
<rect x="699" y="312" width="3" height="15" fill="#ef5350"/>
<rect x="703" y="319" width="1" height="16" fill="#26a69a"/>
<rect x="702" y="325" width="3" height="2" fill="#26a69a"/>
<rect x="706" y="313" width="1" height="20" fill="#26a69a"/>
<rect x="705" y="316" width="3" height="9" fill="#26a69a"/>
<rect x="709" y="311" width="1" height="12" fill="#ef5350"/>
<rect x="708" y="316" width="3" height="6" fill="#ef5350"/>
<rect x="712" y="321" width="1" height="36" fill="#ef5350"/>
<rect x="711" y="322" width="3" height="26" fill="#ef5350"/>
<rect x="714" y="337" width="1" height="12" fill="#26a69a"/>
<rect x="714" y="341" width="2" height="7" fill="#26a69a"/>
<rect x="717" y="323" width="1" height="18" fill="#26a69a"/>
<rect x="716" y="328" width="3" height="13" fill="#26a69a"/>
<rect x="720" y="328" width="1" height="25" fill="#ef5350"/>
<rect x="719" y="328" width="3" height="21" fill="#ef5350"/>
<rect x="723" y="336" width="1" height="18" fill="#26a69a"/>
<rect x="722" y="341" width="3" height="8" fill="#26a69a"/>
<rect x="726" y="326" width="1" height="17" fill="#26a69a"/>
<rect x="725" y="335" width="3" height="6" fill="#26a69a"/>
<rect x="729" y="335" width="1" height="34" fill="#ef5350"/>
<rect x="728" y="335" width="3" height="18" fill="#ef5350"/>
<rect x="732" y="332" width="1" height="21" fill="#26a69a"/>
<rect x="731" y="337" width="3" height="16" fill="#26a69a"/>
<rect x="735" y="337" width="1" height="21" fill="#ef5350"/>
<rect x="734" y="337" width="3" height="14" fill="#ef5350"/>
<rect x="737" y="340" width="1" height="20" fill="#ef5350"/>
<rect x="737" y="350" width="2" height="4" fill="#ef5350"/>
<rect x="740" y="350" width="1" height="24" fill="#ef5350"/>
<rect x="739" y="354" width="3" height="20" fill="#ef5350"/>
<rect x="743" y="362" width="1" height="16" fill="#26a69a"/>
<rect x="742" y="370" width="3" height="4" fill="#26a69a"/>
<rect x="746" y="362" width="1" height="9" fill="#26a69a"/>
<rect x="745" y="370" width="3" height="1" fill="#26a69a"/>
<rect x="749" y="364" width="1" height="22" fill="#ef5350"/>
<rect x="748" y="369" width="3" height="7" fill="#ef5350"/>
<rect x="752" y="367" width="1" height="9" fill="#26a69a"/>
<rect x="751" y="367" width="3" height="9" fill="#26a69a"/>
<rect x="755" y="364" width="1" height="12" fill="#ef5350"/>
<rect x="754" y="367" width="3" height="6" fill="#ef5350"/>
<rect x="758" y="344" width="1" height="30" fill="#26a69a"/>
<rect x="757" y="351" width="3" height="22" fill="#26a69a"/>
<rect x="760" y="342" width="1" height="12" fill="#ef5350"/>
<rect x="760" y="351" width="2" height="3" fill="#ef5350"/>
<rect x="763" y="338" width="1" height="18" fill="#26a69a"/>
<rect x="762" y="345" width="3" height="9" fill="#26a69a"/>
<rect x="766" y="331" width="1" height="14" fill="#26a69a"/>
<rect x="765" y="336" width="3" height="9" fill="#26a69a"/>
<rect x="769" y="331" width="1" height="12" fill="#ef5350"/>
<rect x="768" y="336" width="3" height="7" fill="#ef5350"/>
<rect x="772" y="319" width="1" height="26" fill="#26a69a"/>
<rect x="771" y="321" width="3" height="22" fill="#26a69a"/>
<rect x="775" y="318" width="1" height="13" fill="#ef5350"/>
<rect x="774" y="321" width="3" height="10" fill="#ef5350"/>
<rect x="778" y="326" width="1" height="31" fill="#ef5350"/>
<rect x="777" y="331" width="3" height="3" fill="#ef5350"/>
<rect x="781" y="319" width="1" height="20" fill="#26a69a"/>
<rect x="780" y="327" width="3" height="7" fill="#26a69a"/>
<rect x="783" y="318" width="1" height="12" fill="#ef5350"/>
<rect x="783" y="327" width="2" height="2" fill="#ef5350"/>
<rect x="786" y="326" width="1" height="21" fill="#ef5350"/>
<rect x="785" y="327" width="3" height="9" fill="#ef5350"/>
<rect x="789" y="331" width="1" height="11" fill="#26a69a"/>
<rect x="788" y="334" width="3" height="2" fill="#26a69a"/>
<rect x="792" y="315" width="1" height="25" fill="#26a69a"/>
<rect x="791" y="321" width="3" height="14" fill="#26a69a"/>
<rect x="795" y="284" width="1" height="40" fill="#26a69a"/>
<rect x="794" y="289" width="3" height="32" fill="#26a69a"/>
<rect x="798" y="283" width="1" height="18" fill="#ef5350"/>
<rect x="797" y="289" width="3" height="5" fill="#ef5350"/>
<rect x="801" y="291" width="1" height="17" fill="#ef5350"/>
<rect x="800" y="293" width="3" height="10" fill="#ef5350"/>
<rect x="804" y="296" width="1" height="20" fill="#ef5350"/>
<rect x="803" y="303" width="3" height="12" fill="#ef5350"/>
<rect x="806" y="312" width="1" height="46" fill="#ef5350"/>
<rect x="806" y="313" width="2" height="24" fill="#ef5350"/>
<rect x="809" y="337" width="1" height="53" fill="#ef5350"/>
<rect x="808" y="337" width="3" height="48" fill="#ef5350"/>
<rect x="812" y="369" width="1" height="27" fill="#ef5350"/>
<rect x="811" y="383" width="3" height="8" fill="#ef5350"/>
<rect x="815" y="390" width="1" height="15" fill="#ef5350"/>
<rect x="814" y="390" width="3" height="13" fill="#ef5350"/>
<rect x="818" y="398" width="1" height="8" fill="#ef5350"/>
<rect x="817" y="402" width="3" height="2" fill="#ef5350"/>
<rect x="821" y="403" width="1" height="12" fill="#ef5350"/>
<rect x="820" y="403" width="3" height="7" fill="#ef5350"/>
<rect x="824" y="403" width="1" height="15" fill="#26a69a"/>
<rect x="823" y="404" width="3" height="6" fill="#26a69a"/>
<rect x="827" y="391" width="1" height="18" fill="#26a69a"/>
<rect x="826" y="397" width="3" height="12" fill="#26a69a"/>
<rect x="829" y="396" width="1" height="15" fill="#ef5350"/>
<rect x="829" y="397" width="2" height="9" fill="#ef5350"/>
<rect x="832" y="400" width="1" height="9" fill="#ef5350"/>
<rect x="831" y="405" width="3" height="1" fill="#ef5350"/>
<rect x="835" y="397" width="1" height="9" fill="#26a69a"/>
<rect x="834" y="399" width="3" height="7" fill="#26a69a"/>
<rect x="838" y="397" width="1" height="10" fill="#ef5350"/>
<rect x="837" y="399" width="3" height="4" fill="#ef5350"/>
<rect x="841" y="381" width="1" height="22" fill="#26a69a"/>
<rect x="840" y="388" width="3" height="15" fill="#26a69a"/>
<rect x="844" y="386" width="1" height="25" fill="#ef5350"/>
<rect x="843" y="388" width="3" height="9" fill="#ef5350"/>
<rect x="847" y="396" width="1" height="19" fill="#ef5350"/>
<rect x="846" y="396" width="3" height="19" fill="#ef5350"/>
<rect x="850" y="403" width="1" height="15" fill="#26a69a"/>
<rect x="849" y="408" width="3" height="7" fill="#26a69a"/>
<rect x="852" y="399" width="1" height="16" fill="#26a69a"/>
<rect x="852" y="400" width="2" height="8" fill="#26a69a"/>
<rect x="855" y="399" width="1" height="18" fill="#ef5350"/>
<rect x="854" y="400" width="3" height="8" fill="#ef5350"/>
<rect x="858" y="394" width="1" height="24" fill="#26a69a"/>
<rect x="857" y="398" width="3" height="10" fill="#26a69a"/>
<rect x="861" y="390" width="1" height="19" fill="#26a69a"/>
<rect x="860" y="392" width="3" height="6" fill="#26a69a"/>
<rect x="864" y="391" width="1" height="29" fill="#ef5350"/>
<rect x="863" y="392" width="3" height="26" fill="#ef5350"/>
<rect x="867" y="409" width="1" height="24" fill="#ef5350"/>
<rect x="866" y="418" width="3" height="2" fill="#ef5350"/>
<rect x="870" y="407" width="1" height="23" fill="#ef5350"/>
<rect x="869" y="419" width="3" height="8" fill="#ef5350"/>
<rect x="873" y="410" width="1" height="21" fill="#26a69a"/>
<rect x="872" y="414" width="3" height="13" fill="#26a69a"/>
<rect x="875" y="406" width="1" height="15" fill="#26a69a"/>
<rect x="875" y="410" width="2" height="5" fill="#26a69a"/>
<rect x="878" y="401" width="1" height="16" fill="#ef5350"/>
<rect x="877" y="410" width="3" height="5" fill="#ef5350"/>
<rect x="881" y="408" width="1" height="7" fill="#26a69a"/>
<rect x="880" y="411" width="3" height="4" fill="#26a69a"/>
<rect x="884" y="406" width="1" height="10" fill="#ef5350"/>
<rect x="883" y="411" width="3" height="4" fill="#ef5350"/>
<rect x="887" y="402" width="1" height="29" fill="#26a69a"/>
<rect x="886" y="410" width="3" height="20" fill="#26a69a"/>
<rect x="890" y="393" width="1" height="17" fill="#26a69a"/>
<rect x="889" y="402" width="3" height="8" fill="#26a69a"/>
<rect x="893" y="396" width="1" height="18" fill="#ef5350"/>
<rect x="892" y="402" width="3" height="11" fill="#ef5350"/>
<rect x="896" y="400" width="1" height="15" fill="#26a69a"/>
<rect x="895" y="407" width="3" height="6" fill="#26a69a"/>
<rect x="898" y="403" width="1" height="11" fill="#ef5350"/>
<rect x="898" y="407" width="2" height="5" fill="#ef5350"/>
<rect x="901" y="404" width="1" height="11" fill="#26a69a"/>
<rect x="900" y="405" width="3" height="7" fill="#26a69a"/>
<rect x="904" y="399" width="1" height="8" fill="#ef5350"/>
<rect x="903" y="405" width="3" height="2" fill="#ef5350"/>
<rect x="907" y="398" width="1" height="9" fill="#26a69a"/>
<rect x="906" y="404" width="3" height="3" fill="#26a69a"/>
<rect x="910" y="397" width="1" height="12" fill="#26a69a"/>
<rect x="909" y="399" width="3" height="5" fill="#26a69a"/>
<rect x="913" y="395" width="1" height="10" fill="#ef5350"/>
<rect x="912" y="399" width="3" height="6" fill="#ef5350"/>
<rect x="916" y="404" width="1" height="23" fill="#ef5350"/>
<rect x="915" y="404" width="3" height="17" fill="#ef5350"/>
<rect x="919" y="402" width="1" height="21" fill="#26a69a"/>
<rect x="918" y="419" width="3" height="2" fill="#26a69a"/>
<rect x="921" y="411" width="1" height="11" fill="#26a69a"/>
<rect x="921" y="413" width="2" height="6" fill="#26a69a"/>
<rect x="924" y="412" width="1" height="13" fill="#ef5350"/>
<rect x="923" y="413" width="3" height="10" fill="#ef5350"/>
<rect x="927" y="423" width="1" height="14" fill="#ef5350"/>
<rect x="926" y="423" width="3" height="4" fill="#ef5350"/>
<rect x="930" y="421" width="1" height="19" fill="#ef5350"/>
<rect x="929" y="427" width="3" height="10" fill="#ef5350"/>
<rect x="933" y="432" width="1" height="17" fill="#ef5350"/>
<rect x="932" y="436" width="3" height="10" fill="#ef5350"/>
<rect x="936" y="421" width="1" height="26" fill="#26a69a"/>
<rect x="935" y="422" width="3" height="24" fill="#26a69a"/>
<rect x="939" y="405" width="1" height="18" fill="#26a69a"/>
<rect x="938" y="411" width="3" height="12" fill="#26a69a"/>
<rect x="942" y="402" width="1" height="16" fill="#ef5350"/>
<rect x="941" y="411" width="3" height="7" fill="#ef5350"/>
<rect x="944" y="408" width="1" height="11" fill="#26a69a"/>
<rect x="944" y="413" width="2" height="5" fill="#26a69a"/>
<rect x="947" y="412" width="1" height="11" fill="#ef5350"/>
<rect x="946" y="412" width="3" height="10" fill="#ef5350"/>
<rect x="950" y="420" width="1" height="7" fill="#ef5350"/>
<rect x="949" y="421" width="3" height="6" fill="#ef5350"/>
<rect x="953" y="426" width="1" height="12" fill="#ef5350"/>
<rect x="952" y="426" width="3" height="12" fill="#ef5350"/>
<rect x="956" y="433" width="1" height="13" fill="#ef5350"/>
<rect x="955" y="437" width="3" height="4" fill="#ef5350"/>
<rect x="959" y="424" width="1" height="17" fill="#26a69a"/>
<rect x="958" y="425" width="3" height="16" fill="#26a69a"/>
<rect x="962" y="423" width="1" height="11" fill="#ef5350"/>
<rect x="961" y="425" width="3" height="8" fill="#ef5350"/>
<rect x="965" y="423" width="1" height="14" fill="#ef5350"/>
<rect x="964" y="430" width="3" height="7" fill="#ef5350"/>
<rect x="967" y="427" width="1" height="16" fill="#26a69a"/>
<rect x="967" y="435" width="2" height="2" fill="#26a69a"/>
<rect x="970" y="435" width="1" height="14" fill="#ef5350"/>
<rect x="969" y="435" width="3" height="10" fill="#ef5350"/>
<rect x="973" y="440" width="1" height="12" fill="#ef5350"/>
<rect x="972" y="444" width="3" height="4" fill="#ef5350"/>
<rect x="976" y="447" width="1" height="12" fill="#ef5350"/>
<rect x="975" y="447" width="3" height="11" fill="#ef5350"/>
<rect x="979" y="449" width="1" height="9" fill="#26a69a"/>
<rect x="978" y="451" width="3" height="7" fill="#26a69a"/>
</g></svg>
<rect x="1497" y="28" width="1" height="768" fill="#e0e3eb"/>
<rect x="11" y="768" width="1546" height="1" fill="#e0e3eb"/>
<g font-size="12" fill="#131722">
<text x="18.5" y="45.7" xml:space="preserve">New Zealand Dollar / U.S. Dollar, 1h, FXCM</text>
<text x="257.5" y="45.7" textLength="50.3" lengthAdjust="spacingAndGlyphs">O<tspan fill="#26a69a">0.58663</tspan></text>
<text x="315.3" y="45.7" textLength="50.3" lengthAdjust="spacingAndGlyphs">H<tspan fill="#26a69a">0.58704</tspan></text>
<text x="372.4" y="45.7" textLength="47.6" lengthAdjust="spacingAndGlyphs">L<tspan fill="#26a69a">0.58661</tspan></text>
<text x="428" y="45.7" textLength="50" lengthAdjust="spacingAndGlyphs">C<tspan fill="#26a69a">0.58694</tspan></text>
<text x="484.7" y="45.7" fill="#26a69a" textLength="97.4" lengthAdjust="spacingAndGlyphs">+0.00031 (+0.05%)</text>
</g>
<rect x="1501.2" y="30.7" width="52.2" height="26.5" rx="4" fill="#fff" stroke="#e0e3eb" stroke-width="1.4"/>
<text x="1510.6" y="48.5" font-size="12" fill="#131722" textLength="21" lengthAdjust="spacingAndGlyphs">USD</text>
<g font-size="12" fill="#131722">
<text x="1505" y="79.8" textLength="42.5" lengthAdjust="spacingAndGlyphs">0.60600</text>
<text x="1505" y="118.8" textLength="42.5" lengthAdjust="spacingAndGlyphs">0.60400</text>
<text x="1505" y="158.8" textLength="42.5" lengthAdjust="spacingAndGlyphs">0.60200</text>
<text x="1505" y="197.8" textLength="42.5" lengthAdjust="spacingAndGlyphs">0.60000</text>
<text x="1505" y="237.8" textLength="42.5" lengthAdjust="spacingAndGlyphs">0.59800</text>
<text x="1505" y="276.8" textLength="42.5" lengthAdjust="spacingAndGlyphs">0.59600</text>
<text x="1505" y="315.8" textLength="42.5" lengthAdjust="spacingAndGlyphs">0.59400</text>
<text x="1505" y="355.8" textLength="42.5" lengthAdjust="spacingAndGlyphs">0.59200</text>
<text x="1505" y="394.8" textLength="42.5" lengthAdjust="spacingAndGlyphs">0.59000</text>
<text x="1505" y="434.8" textLength="42.5" lengthAdjust="spacingAndGlyphs">0.58800</text>
<text x="1505" y="513.8" textLength="42.5" lengthAdjust="spacingAndGlyphs">0.58400</text>
<text x="1505" y="552.8" textLength="42.5" lengthAdjust="spacingAndGlyphs">0.58200</text>
<text x="1505" y="592.8" textLength="42.5" lengthAdjust="spacingAndGlyphs">0.58000</text>
<text x="1505" y="631.8" textLength="42.5" lengthAdjust="spacingAndGlyphs">0.57800</text>
<text x="1505" y="670.8" textLength="42.5" lengthAdjust="spacingAndGlyphs">0.57600</text>
<text x="1505" y="710.8" textLength="42.5" lengthAdjust="spacingAndGlyphs">0.57400</text>
<text x="1505" y="749.8" textLength="42.5" lengthAdjust="spacingAndGlyphs">0.57200</text>
</g>
<path d="M1497 443 H1551 Q1553 443 1553 445 V472 Q1553 474 1551 474 H1497 Z" fill="#26a69a"/>
<text x="1505" y="456" font-size="12" font-weight="bold" fill="#fff" textLength="42.6" lengthAdjust="spacingAndGlyphs">0.58694</text>
<text x="1505" y="470" font-size="12" font-weight="bold" fill="#fff" fill-opacity="0.82" textLength="29.5" lengthAdjust="spacingAndGlyphs">28:55</text>
<g font-size="12" fill="#131722">
<text x="101.6" y="786" text-anchor="middle">12:00</text>
<text x="205.6" y="786" text-anchor="middle">30</text>
<text x="343.6" y="786" text-anchor="middle">Nov</text>
<text x="446.6" y="786" text-anchor="middle">12:00</text>
<text x="547.6" y="786" text-anchor="middle">6</text>
<text x="685.6" y="786" text-anchor="middle">8</text>
<text x="788.6" y="786" text-anchor="middle">12:00</text>
<text x="891.6" y="786" text-anchor="middle">13</text>
<text x="1029.6" y="786" text-anchor="middle">15</text>
<text x="1133.6" y="786" text-anchor="middle">12:00</text>
<text x="1236.6" y="786" text-anchor="middle">20</text>
<text x="1374.6" y="786" text-anchor="middle">22</text>
<text x="1478.6" y="786" text-anchor="middle">12:00</text>
</g>
<!-- event icons -->
<g>
<circle cx="978.9" cy="755.3" r="9.1" fill="#fff" stroke="#9c27b0" stroke-width="1.5"/>
<path d="M982.4 750.6 L976.2 755.4 H982.9 L976.6 760.4" fill="none" stroke="#9c27b0" stroke-width="1.8" stroke-linejoin="round" stroke-linecap="round"/>
</g>
<g id="flag1"></g>
<g>
<circle cx="998.9" cy="755.1" r="10.2" fill="#fff" stroke="#f23645" stroke-width="1.5"/>
<clipPath id="fc998"><circle cx="998.9" cy="755.1" r="7.9"/></clipPath>
<g clip-path="url(#fc998)">
<rect x="990.9" y="747.1" width="16" height="16" fill="#fff"/>
<rect x="990.9" y="747.1" width="16" height="3.5" fill="#ef5350"/>
<rect x="990.9" y="753.1" width="16" height="3.8" fill="#ef5350"/>
<rect x="990.9" y="759.3000000000001" width="16" height="4" fill="#ef5350"/>
<rect x="990.9" y="747.1" width="10" height="9.8" fill="#2b86e0"/>
<circle cx="992.8" cy="749.3000000000001" r="0.65" fill="#fff"/><circle cx="992.8" cy="752.0" r="0.65" fill="#fff"/><circle cx="992.8" cy="754.7" r="0.65" fill="#fff"/><circle cx="995.6999999999999" cy="749.3000000000001" r="0.65" fill="#fff"/><circle cx="995.6999999999999" cy="752.0" r="0.65" fill="#fff"/><circle cx="995.6999999999999" cy="754.7" r="0.65" fill="#fff"/><circle cx="998.4" cy="749.3000000000001" r="0.65" fill="#fff"/><circle cx="998.4" cy="752.0" r="0.65" fill="#fff"/><circle cx="998.4" cy="754.7" r="0.65" fill="#fff"/>
</g></g><g>
<circle cx="1067.9" cy="755.0" r="10.2" fill="#fff" stroke="#f23645" stroke-width="1.5"/>
<clipPath id="fc1067"><circle cx="1067.9" cy="755.0" r="7.9"/></clipPath>
<g clip-path="url(#fc1067)">
<rect x="1059.9" y="747.0" width="16" height="16" fill="#fff"/>
<rect x="1059.9" y="747.0" width="16" height="3.5" fill="#ef5350"/>
<rect x="1059.9" y="753.0" width="16" height="3.8" fill="#ef5350"/>
<rect x="1059.9" y="759.2" width="16" height="4" fill="#ef5350"/>
<rect x="1059.9" y="747.0" width="10" height="9.8" fill="#2b86e0"/>
<circle cx="1061.8000000000002" cy="749.2" r="0.65" fill="#fff"/><circle cx="1061.8000000000002" cy="751.9" r="0.65" fill="#fff"/><circle cx="1061.8000000000002" cy="754.6" r="0.65" fill="#fff"/><circle cx="1064.7" cy="749.2" r="0.65" fill="#fff"/><circle cx="1064.7" cy="751.9" r="0.65" fill="#fff"/><circle cx="1064.7" cy="754.6" r="0.65" fill="#fff"/><circle cx="1067.4" cy="749.2" r="0.65" fill="#fff"/><circle cx="1067.4" cy="751.9" r="0.65" fill="#fff"/><circle cx="1067.4" cy="754.6" r="0.65" fill="#fff"/>
</g></g><g>
<circle cx="1205.8" cy="755.0" r="10.2" fill="#fff" stroke="#f23645" stroke-width="1.5"/>
<clipPath id="fc1205"><circle cx="1205.8" cy="755.0" r="7.9"/></clipPath>
<g clip-path="url(#fc1205)">
<rect x="1197.8" y="747.0" width="16" height="16" fill="#fff"/>
<rect x="1197.8" y="747.0" width="16" height="3.5" fill="#ef5350"/>
<rect x="1197.8" y="753.0" width="16" height="3.8" fill="#ef5350"/>
<rect x="1197.8" y="759.2" width="16" height="4" fill="#ef5350"/>
<rect x="1197.8" y="747.0" width="10" height="9.8" fill="#2b86e0"/>
<circle cx="1199.7" cy="749.2" r="0.65" fill="#fff"/><circle cx="1199.7" cy="751.9" r="0.65" fill="#fff"/><circle cx="1199.7" cy="754.6" r="0.65" fill="#fff"/><circle cx="1202.6" cy="749.2" r="0.65" fill="#fff"/><circle cx="1202.6" cy="751.9" r="0.65" fill="#fff"/><circle cx="1202.6" cy="754.6" r="0.65" fill="#fff"/><circle cx="1205.3" cy="749.2" r="0.65" fill="#fff"/><circle cx="1205.3" cy="751.9" r="0.65" fill="#fff"/><circle cx="1205.3" cy="754.6" r="0.65" fill="#fff"/>
</g></g>
<!-- logo -->
<g fill="#131722">
<path d="M10 808.2 H17.8 V817.7 H14 V811.8 H10 Z"/>
<circle cx="21.1" cy="810.1" r="2"/>
<path d="M25.3 808.2 H29.5 L25.7 817.7 H21.1 Z"/>
</g>
<text x="32.9" y="817.7" font-size="13" fill="#131722">TradingView</text>
</svg>
</body></html>
